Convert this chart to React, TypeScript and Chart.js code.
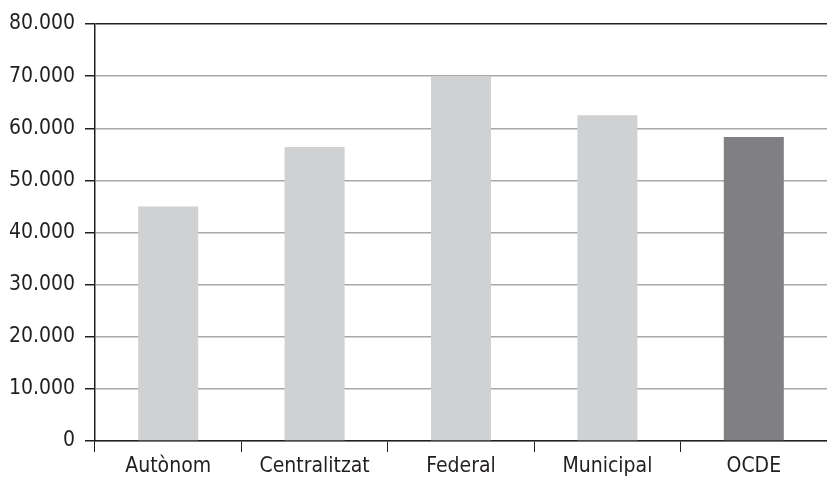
import React, { useEffect, useRef } from "react";
import { Chart, registerables } from "chart.js";

Chart.register(...registerables);

const categories = ["Autònom", "Centralitzat", "Federal", "Municipal", "OCDE"];
const values = [45000, 56400, 70000, 62500, 58300];
const barColors = ["#d0d1d3", "#d0d1d3", "#d0d1d3", "#d0d1d3", "#808083"];
const yMax = 80000;
const yStep = 10000;

const FONT = "'DejaVu Sans Condensed', 'Liberation Sans Narrow', sans-serif";
const INK = "#231f20";

const formatThousands = (v: number) =>
  String(v).replace(/\B(?=(\d{3})+(?!\d))/g, ".");

export default function App() {
  const canvasRef = useRef<HTMLCanvasElement | null>(null);

  useEffect(() => {
    if (!canvasRef.current) return;
    const chart = new Chart(canvasRef.current, {
      type: "bar",
      data: {
        labels: categories,
        datasets: [
          {
            data: values,
            backgroundColor: barColors,
            borderWidth: 0,
            categoryPercentage: 1,
            barPercentage: 0.41,
          },
        ],
      },
      options: {
        animation: false,
        responsive: false,
        maintainAspectRatio: false,
        layout: { padding: { top: 24, right: 0, left: 0, bottom: 0 } },
        plugins: { legend: { display: false }, tooltip: { enabled: false } },
        scales: {
          x: {
            offset: true,
            grid: {
              offset: true,
              drawOnChartArea: false,
              drawTicks: true,
              tickLength: 11,
              tickColor: INK,
              tickWidth: 1,
            },
            border: { color: INK, width: 1.5 },
            ticks: {
              color: INK,
              font: { family: FONT, size: 21 },
              padding: 2,
              maxRotation: 0,
              autoSkip: false,
            },
            afterFit: (s: any) => {
              s.height = 47;
            },
          },
          y: {
            min: 0,
            max: yMax,
            grid: {
              color: (ctx: any) =>
                ctx.tick && ctx.tick.value === yMax ? INK : "#a7a8aa",
              lineWidth: 1.5,
              drawTicks: true,
              tickLength: 10,
              tickColor: INK,
              tickWidth: 1.5,
            },
            border: { color: INK, width: 1.5 },
            ticks: {
              stepSize: yStep,
              color: INK,
              font: { family: FONT, size: 21 },
              padding: 10,
              callback: (v: any) => formatThousands(Number(v)),
            },
            afterFit: (s: any) => {
              s.width = 95;
            },
          },
        },
      },
    });
    return () => chart.destroy();
  }, []);

  return (
    <div style={{ position: "fixed", left: 0, top: 0, width: 827, height: 488, background: "#fff" }}>
      <canvas ref={canvasRef} width={827} height={488} style={{ width: 827, height: 488 }} />
    </div>
  );
}
